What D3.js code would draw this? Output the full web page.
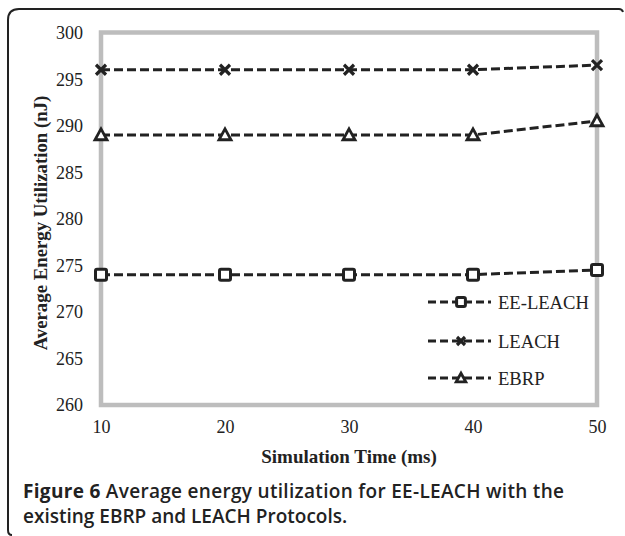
<!DOCTYPE html>
<html><head><meta charset="utf-8">
<script src="https://cdn.jsdelivr.net/npm/d3@7/dist/d3.min.js"></script>
<style>body{margin:0;background:#fff}svg{display:block}</style>
</head><body>
<script>
const times = [10, 20, 30, 40, 50];
const eeLeach = [274, 274, 274, 274, 274.5];
const leach = [296, 296, 296, 296, 296.5];
const ebrp = [289, 289, 289, 289, 290.5];
const yTicks = [260, 265, 270, 275, 280, 285, 290, 295, 300];
const seriesNames = ["EE-LEACH", "LEACH", "EBRP"];
const seriesValues = [eeLeach, leach, ebrp];
const symbols = ["square", "cross", "triangle"];

const W = 625, H = 536;
const svg = d3.select("body").append("svg").attr("width", W).attr("height", H);

// outer frame (top and left, rounded)
svg.append("path")
  .attr("d", "M12,535 Q8,535 8,530 L8,20 Q8,9 19,9 L619,9 Q622,9 623,12")
  .attr("fill", "none").attr("stroke", "#222").attr("stroke-width", 2);

const x = d3.scaleLinear().domain([10, 50]).range([101, 597]);
const y = d3.scaleLinear().domain([260, 300]).range([405, 32.5]);

// plot frame
svg.append("rect").attr("x", x(10)).attr("y", y(300)).attr("width", x(50) - x(10)).attr("height", y(260) - y(300))
  .attr("fill", "none").attr("stroke", "#bdbdbd").attr("stroke-width", 4.5);

// y axis
const yAxis = d3.axisLeft(y).tickValues(yTicks).tickSize(0).tickPadding(18);
const gy = svg.append("g").attr("transform", `translate(${x(10)},0)`).call(yAxis);
gy.select(".domain").remove();
gy.selectAll("text").attr("font-family", "Liberation Serif").attr("font-size", 18).attr("fill", "#222").attr("dy", "0.33em");

// x axis
const xAxis = d3.axisBottom(x).tickValues(times).tickSize(0).tickPadding(15);
const gx = svg.append("g").attr("transform", `translate(0,${y(260)})`).call(xAxis);
gx.select(".domain").remove();
gx.selectAll("text").attr("font-family", "Liberation Serif").attr("font-size", 18).attr("fill", "#222").attr("dy", "0.71em");

// axis titles
svg.append("text").attr("x", 349).attr("y", 463).attr("text-anchor", "middle")
  .attr("font-family", "Liberation Serif").attr("font-weight", "bold").attr("font-size", 19).attr("fill", "#222")
  .text("Simulation Time (ms)");
svg.append("text").attr("transform", "translate(47,223) rotate(-90)").attr("text-anchor", "middle")
  .attr("font-family", "Liberation Serif").attr("font-weight", "bold").attr("font-size", 18.8).attr("fill", "#222")
  .text("Average Energy Utilization (nJ)");

function drawMarker(g, type, cx, cy, scale) {
  const s = scale || 1;
  if (type === "square") {
    g.append("rect").attr("x", cx - 5.5 * s).attr("y", cy - 5.5 * s).attr("width", 11 * s).attr("height", 11 * s)
      .attr("rx", 1.5).attr("fill", "#fff").attr("stroke", "#222").attr("stroke-width", 3);
  } else if (type === "cross") {
    const r = 5 * s;
    g.append("path").attr("d", `M${cx - r},${cy - r}L${cx + r},${cy + r}M${cx - r},${cy + r}L${cx + r},${cy - r}`)
      .attr("stroke", "#222").attr("stroke-width", 3.2).attr("fill", "none");
  } else {
    const r = 6 * s;
    g.append("path").attr("d", `M${cx},${cy - r}L${cx + r},${cy + r * 0.8}L${cx - r},${cy + r * 0.8}Z`)
      .attr("fill", "#fff").attr("stroke", "#222").attr("stroke-width", 2.8).attr("stroke-linejoin", "miter");
  }
}

const line = d3.line().x(d => x(d[0])).y(d => y(d[1]));
seriesValues.forEach((vals, i) => {
  const pts = times.map((t, j) => [t, vals[j]]);
  svg.append("path").attr("d", line(pts)).attr("fill", "none").attr("stroke", "#222")
    .attr("stroke-width", 3).attr("stroke-dasharray", "9,4");
  const g = svg.append("g");
  pts.forEach(p => drawMarker(g, symbols[i], x(p[0]), y(p[1])));
});

// legend
const legY = [302, 341, 378];
seriesNames.forEach((name, i) => {
  const g = svg.append("g");
  g.append("line").attr("x1", 428).attr("x2", 491).attr("y1", legY[i]).attr("y2", legY[i])
    .attr("stroke", "#222").attr("stroke-width", 3).attr("stroke-dasharray", "8,4");
  drawMarker(g, symbols[i], 461, legY[i], 0.8);
  g.append("text").attr("x", 498).attr("y", legY[i]).attr("dy", "0.35em")
    .attr("font-family", "Liberation Serif").attr("font-size", 18.6).attr("fill", "#222").text(name);
});

// caption
const cap = svg.append("g").attr("font-family", "Open Sans").attr("font-size", 19).attr("fill", "#222");
const t1 = cap.append("text").attr("x", 23).attr("y", 498).attr("textLength", 541).attr("lengthAdjust", "spacing");
t1.append("tspan").attr("font-weight", 700).text("Figure 6 ");
t1.append("tspan").attr("font-weight", 600).text("Average energy utilization for EE-LEACH with the");
cap.append("text").attr("x", 23).attr("y", 523).attr("font-weight", 600).text("existing EBRP and LEACH Protocols.");
</script>
</body></html>
